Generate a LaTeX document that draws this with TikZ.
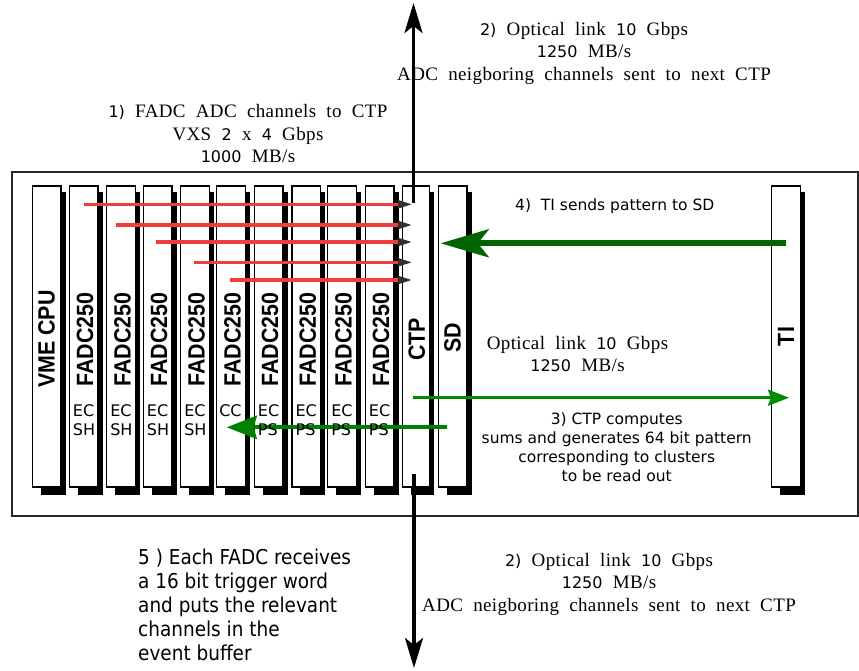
\documentclass[tikz,border=0pt]{standalone}
\usepackage{fontspec}
\usetikzlibrary{arrows.meta,backgrounds,calc}
\newfontfamily\serifA[WordSpace=2.0,LetterSpace=2]{Liberation Serif}
\newfontfamily\dvs{DejaVu Sans}
\newfontfamily\dvsc[FakeStretch=0.9]{DejaVu Sans}
\newfontfamily\boardfont[FakeStretch=0.91]{Liberation Sans}
\newcommand\dg[1]{{\dvs\fontsize{16}{22}\selectfont #1}}
\definecolor{dkgreen}{RGB}{0,100,0}
\definecolor{mgreen}{RGB}{0,140,0}
\definecolor{lgreen}{RGB}{0,128,0}
\definecolor{redline}{RGB}{240,60,60}
\definecolor{tipgray}{RGB}{50,50,50}
\tikzset{
  board/.style={draw=black, line width=1.3pt, fill=white, minimum width=28.5pt, minimum height=301pt, inner sep=0pt},
  blabel/.style={rotate=90, font=\boardfont\bfseries\fontsize{23.5}{23.5}\selectfont, inner sep=0pt},
  clabel/.style={anchor=north west, align=left, inner sep=0pt, font=\dvs\fontsize{16}{19.3}\selectfont},
  seriftext/.style={align=center, inner sep=0pt, font=\serifA\fontsize{19}{22.5}\selectfont},
  sanstext/.style={align=center, inner sep=0pt, font=\dvs\fontsize{15.5}{19}\selectfont},
  redarrow/.style={draw=redline, line width=3.2pt, -{Triangle[length=14.5pt,width=7.5pt,color=tipgray]}},
  blackarrow/.style={draw=black, line width=3.2pt, -{Stealth[length=30pt,width=18pt,inset=7pt]}},
}
\begin{document}
\begin{tikzpicture}[x=1pt,y=1pt]
\useasboundingbox (0,0) rectangle (859,-671);
% crate frame
\node[draw=black!85, line width=1.2pt, minimum width=846pt, minimum height=344pt, inner sep=0pt] (crate) at (435,-344) {};
% boards
\node[board] (vme) at (46.6,-336.5) {};
\node[board] (f1) at (83.6,-336.5) {};
\node[board] (f2) at (121.0,-336.5) {};
\node[board] (f3) at (157.6,-336.5) {};
\node[board] (f4) at (195.0,-336.5) {};
\node[board] (f5) at (231.0,-336.5) {};
\node[board] (f6) at (268.6,-336.5) {};
\node[board] (f7) at (306.3,-336.5) {};
\node[board] (f8) at (342.0,-336.5) {};
\node[board] (f9) at (379.6,-336.5) {};
\node[board, minimum width=27pt] (ctp) at (415.9,-336.5) {};
\node[board] (sd) at (452.6,-336.5) {};
\node[board] (ti) at (786.0,-336.5) {};
\begin{scope}[on background layer]
\foreach \b in {vme,f1,f2,f3,f4,f5,f6,f7,f8,f9,ctp,sd,ti}
  \fill[black] ([shift={(9,-7)}]\b.north west) rectangle ([shift={(4,-7)}]\b.south east);
\end{scope}
% board labels
\node[blabel] (lvme) at ([yshift=-2.5]vme.center) {VME CPU};
\foreach \b in {f1,f2,f3,f4,f5,f6,f7,f8,f9}
  \node[blabel] (l\b) at ([shift={(1.5,-3)}]\b.center) {FADC250};
\node[blabel] (lctp) at ([shift={(1,-3)}]ctp.center) {CTP};
\node[blabel] (lsd) at ([yshift=-1.5]sd.center) {SD};
\node[blabel] (lti) at (ti.center) {TI};
% red links FADC -> CTP
\coordinate (rt) at (412.7,-200);
\coordinate (r1) at (84.3,-204.3);
\coordinate (r2) at (115.7,-225);
\coordinate (r3) at (156,-242);
\coordinate (r4) at (194.3,-262.3);
\coordinate (r5) at (230,-280);
\foreach \r in {r1,r2,r3,r4,r5}
  \draw[redarrow] (\r) -- (\r -| rt);
% texts
\node[seriftext] (t1) at (248,-134) {\dg{1)} FADC ADC channels to CTP\\VXS \dg{2} x \dg{4} Gbps\\\dg{1000} MB/s};
\node[seriftext] (t2) at (584,-53) {\dg{2)} Optical link \dg{10} Gbps\\\dg{1250} MB/s\\ADC neigboring channels sent to next CTP};
\node[seriftext] (t6) at (577.5,-354) {Optical link \dg{10} Gbps\\\dg{1250} MB/s};
\node[seriftext] (t7) at (609,-584) {\dg{2)} Optical link \dg{10} Gbps\\\dg{1250} MB/s\\ADC neigboring channels sent to next CTP};
\node[sanstext] (t3) at (616.7,-447.5) {3) CTP computes\\sums and generates 64 bit pattern\\corresponding to clusters\\to be read out};
\node[sanstext, anchor=west] (t4) at (515,-206.7) {4)\ \ TI sends pattern to SD};
\node[anchor=north west, align=left, inner sep=0pt, font=\dvsc\fontsize{20.5}{24}\selectfont] (t5) at (138,-549) {5 ) Each FADC receives\\a 16 bit trigger word\\and puts the relevant\\channels in the\\event buffer};
% optical links up / down
\coordinate (upS) at (413.5,-203);
\coordinate (upE) at (413.5,-3);
\coordinate (dnS) at (414,-474);
\coordinate (dnE) at (414,-668);
\draw[blackarrow] (upS) -- (upE);
\draw[blackarrow] (dnS) -- (dnE);
% green links
\coordinate (g1s) at (786,-243.3);
\coordinate (g1e) at (440.7,-243.3);
\draw[dkgreen, line width=6pt, -{Stealth[length=48pt,width=28pt,inset=11pt]}] (g1s) -- (g1e);
\coordinate (g2s) at (413,-397.7);
\coordinate (g2e) at (789,-397.7);
\draw[mgreen, line width=3.2pt, -{Stealth[length=21pt,width=16pt,inset=3pt]}] (g2s) -- (g2e);
\coordinate (g3s) at (446.7,-427.3);
\coordinate (g3e) at (226.7,-427.3);
\draw[lgreen, line width=4pt, -{Stealth[length=30pt,width=23pt,inset=3pt]}] (g3s) -- (g3e);
% slot labels
\foreach \b in {f1,f2,f3,f4}
  \node[clabel] (c\b) at ($(\b.north west)+(4,-219)$) {EC\\SH};
\node[clabel] (cf5) at ($(f5.north west)+(3,-219)$) {CC};
\foreach \b in {f6,f7,f8,f9}
  \node[clabel] (c\b) at ($(\b.north west)+(4,-219)$) {EC\\PS};
\end{tikzpicture}
\end{document}
